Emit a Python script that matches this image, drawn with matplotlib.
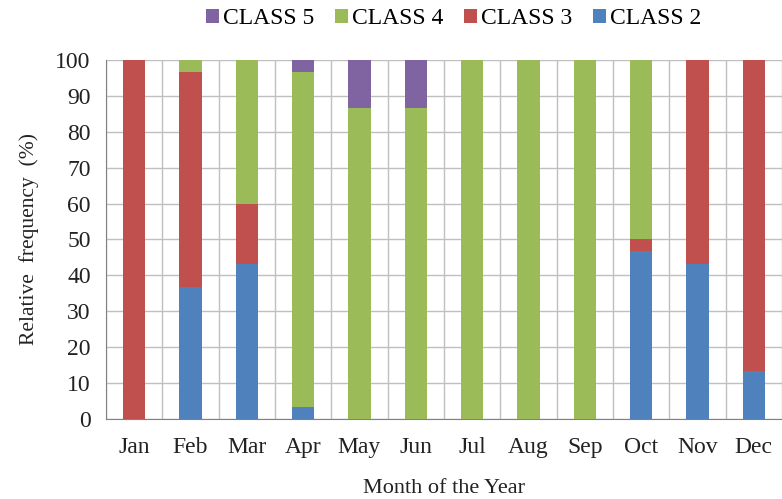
import matplotlib.pyplot as plt
import numpy as np

# Monatliche relative Haeufigkeit der Klassen (%)
months = ["Jan", "Feb", "Mar", "Apr", "May", "Jun",
          "Jul", "Aug", "Sep", "Oct", "Nov", "Dec"]
class2 = [0, 36.7, 43.3, 3.3, 0, 0, 0, 0, 0, 46.7, 43.3, 13.3]
class3 = [100, 60.0, 16.7, 0, 0, 0, 0, 0, 0, 3.3, 56.7, 86.7]
class4 = [0, 3.3, 40.0, 93.4, 86.7, 86.7, 100, 100, 100, 50.0, 0, 0]
class5 = [0, 0, 0, 3.3, 13.3, 13.3, 0, 0, 0, 0, 0, 0]

plt.rcParams['font.family'] = ['Liberation Serif', 'DejaVu Serif']

fig = plt.figure(figsize=(7.82, 4.99), dpi=100)
ax = fig.add_axes([0.1355, 0.1603, 0.8645, 0.7195])

x = np.arange(len(months))
w = 0.4
b2 = ax.bar(x, class2, w, color="#4F81BD", label="CLASS 2", zorder=3)
bot = np.array(class2)
b3 = ax.bar(x, class3, w, bottom=bot, color="#C0504D", label="CLASS 3", zorder=3)
bot = bot + np.array(class3)
b4 = ax.bar(x, class4, w, bottom=bot, color="#9BBB59", label="CLASS 4", zorder=3)
bot = bot + np.array(class4)
b5 = ax.bar(x, class5, w, bottom=bot, color="#8064A2", label="CLASS 5", zorder=3)

ax.set_xlim(-0.5, len(months) - 0.5)
ax.set_ylim(0, 100)
ax.set_yticks(range(0, 101, 10))
ax.set_xticks(x)
ax.set_xticklabels(months)
ax.tick_params(axis="both", length=0, labelsize=17, colors="#222222")
ax.tick_params(axis="x", pad=13)
ax.tick_params(axis="y", pad=11)

# Gitter: horizontale Linien bei Ticks, vertikale zwischen den Monaten
ax.set_xticks(np.arange(-0.5, len(months), 1), minor=True)
ax.tick_params(axis="x", which="minor", length=0)
ax.grid(axis="y", color="#BFBFBF", lw=1, zorder=0)
ax.grid(axis="x", which="minor", color="#BFBFBF", lw=1, zorder=0)
ax.grid(axis="x", which="major", visible=False)

for s in ["top", "right"]:
    ax.spines[s].set_visible(False)
ax.spines["left"].set_color("#808080")
ax.spines["bottom"].set_color("#808080")

ax.set_xlabel("Month of the Year", fontsize=16, labelpad=15, color="#222222")
ax.set_ylabel("Relative  frequency  (%)", fontsize=15.5, labelpad=12, color="#222222")

fig.legend(handles=[b5, b4, b3, b2], labels=["CLASS 5", "CLASS 4", "CLASS 3", "CLASS 2"],
           loc="center", bbox_to_anchor=(0.58, 0.962), ncol=4, frameon=False,
           fontsize=17, handlelength=0.55, handleheight=0.55, handletextpad=0.15,
           columnspacing=0.9)

fig.savefig("out.png", dpi=100)
